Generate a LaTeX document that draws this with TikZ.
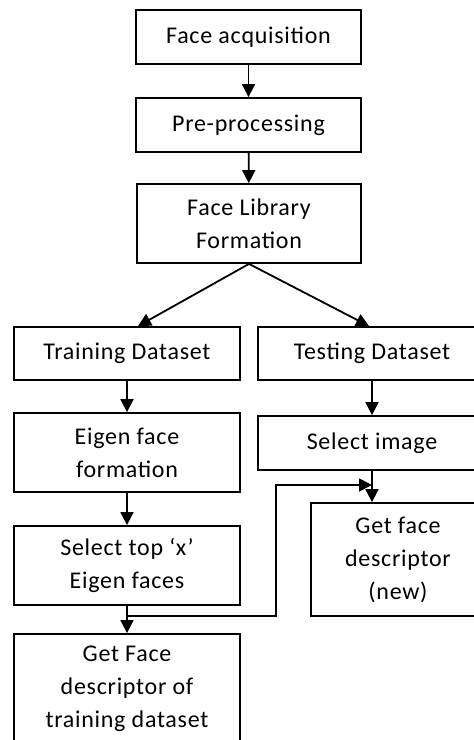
\documentclass[tikz,border=0pt]{standalone}
\usepackage{fontspec}
\setmainfont{Carlito}[LetterSpace=3]
\usetikzlibrary{arrows.meta,calc}
\tikzset{blk/.style={draw,line width=1.8pt,align=center,inner sep=0pt,font=\fontsize{24}{33}\selectfont},
         flow/.style={line width=1.8pt,-{Triangle[length=13pt,width=13pt]}}
}

\begin{document}
\begin{tikzpicture}[x=1pt,y=-1pt]
  \clip(0,0)rectangle(474,740);
  % main column
  \node[blk,minimum width=225pt,minimum height=54pt](acq)at(248.5,37){Face acquisition};
  \node[blk,minimum width=225pt,minimum height=54pt](pre)at(248.5,125){Pre-processing};
  \node[blk,minimum width=224pt,minimum height=79pt](lib)at(249,223.5){Face Library\\Formation};
  % training side
  \node[blk,minimum width=226pt,minimum height=53pt](train)at(127,353.5){Training Dataset};
  \node[blk,minimum width=226pt,minimum height=79pt](eig)at(127,452.5){Eigen face\\formation};
  \node[blk,minimum width=226pt,minimum height=79pt](top)at(127,565.5){Select top `x'\\Eigen faces};
  \node[blk,minimum width=226pt,minimum height=110pt](desc)at(127,689){Get Face\\descriptor of\\training dataset};
  % testing side
  \node[blk,minimum width=228pt,minimum height=53pt](test)at(372,353.5){Testing Dataset};
  \node[blk,minimum width=228pt,minimum height=54pt](sel)at(372,443){Select image};
  \node[blk,minimum width=174pt,minimum height=113pt](new)at(398,559.5){Get face\\descriptor\\(new)};

  \draw[flow](acq)--(pre);
  \draw[flow](pre)--(lib);
  \draw[flow](lib.south)--($(train.north)+(11,0)$);
  \draw[flow](lib.south)--($(test.north)+(-3,0)$);
  \draw[flow](train)--(eig);
  \draw[flow](eig)--(top);
  \draw[flow](top)--(desc);
  \draw[flow](test)--(sel);
  \draw[flow](sel.south)--(sel.south|-new.north);
  \coordinate(j1)at($(top.south)+(0,10)$);
  \coordinate(j2)at(276,485);
  \draw[flow](j1)-|(j2)--(j2-|sel.south);
\end{tikzpicture}
\end{document}
